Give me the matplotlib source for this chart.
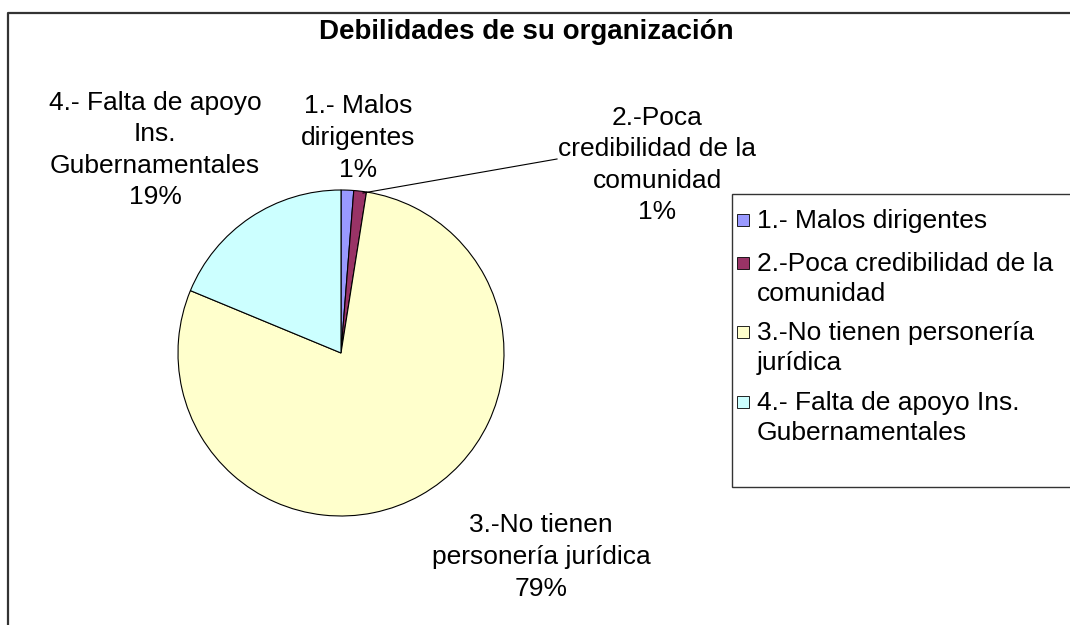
import matplotlib
matplotlib.use('Agg')
import matplotlib.pyplot as plt
from matplotlib.patches import Rectangle
from matplotlib.lines import Line2D

plt.rcParams['font.family'] = ['Liberation Sans', 'DejaVu Sans']

# data
titulo = 'Debilidades de su organización'
categorias = ['1.- Malos dirigentes',
              '2.-Poca credibilidad de la comunidad',
              '3.-No tienen personería jurídica',
              '4.- Falta de apoyo Ins. Gubernamentales']
valores = [1, 1, 63, 15]
colores = ['#9999FF', '#993366', '#FFFFCC', '#CCFFFF']
etiquetas = ['1.- Malos\ndirigentes',
             '2.-Poca\ncredibilidad de la\ncomunidad',
             '3.-No tienen\npersonería jurídica',
             '4.- Falta de apoyo\nIns.\nGubernamentales']
leyenda = ['1.- Malos dirigentes',
           '2.-Poca credibilidad de la\ncomunidad',
           '3.-No tienen personería\njurídica',
           '4.- Falta de apoyo Ins.\nGubernamentales']

W, H = 1070, 625
fig = plt.figure(figsize=(W / 100, H / 100), dpi=100)

def fx(px):
    return px / W

def fy(py):
    return 1 - py / H

# pie
cx, cy, r = 341, 353, 163
ax = fig.add_axes([fx(cx - r), fy(cy + r), 2 * r / W, 2 * r / H])
ax.pie(valores, colors=colores, startangle=90, counterclock=False,
       wedgeprops=dict(edgecolor='black', linewidth=0.8))
ax.set_xlim(-1, 1)
ax.set_ylim(-1, 1)
ax.set_aspect('equal')
ax.axis('off')

total = sum(valores)
pct = ['%d%%' % round(100 * v / total) for v in valores]

fs = 19
# data labels
pos = [(358, 138), (657, 165), (541, 557), (155, 150)]
for lab, p, (px, py) in zip(etiquetas, pct, pos):
    fig.text(fx(px), fy(py), lab + '\n' + p, ha='center', va='center',
             multialignment='center', fontsize=fs, linespacing=1.4)

# leader line for slice 2
fig.add_artist(Line2D([fx(363), fx(557)], [fy(193), fy(159)],
                      color='black', lw=0.8))

# title
fig.text(fx(526), fy(32), titulo, ha='center', va='center',
         fontsize=20, fontweight='bold')

# outer frame
fig.add_artist(Line2D([fx(8), fx(8), fx(1075)], [fy(630), fy(13), fy(13)],
                      color='#333333', lw=1.6))

# legend
fig.add_artist(Rectangle((fx(732), fy(487)), fx(1080) - fx(732),
                         fy(194) - fy(487), facecolor='white',
                         edgecolor='#333333', lw=1.0))
ley_y = [220, 263, 332, 402]
for txt, c, y in zip(leyenda, colores, ley_y):
    fig.add_artist(Rectangle((fx(737), fy(y + 6)), 12 / W, 12 / H,
                             facecolor=c, edgecolor='black', lw=0.6))
    fig.text(fx(757), fy(y - 11), txt, ha='left', va='top',
             fontsize=fs, linespacing=1.3)

fig.savefig('out.png', dpi=100)
